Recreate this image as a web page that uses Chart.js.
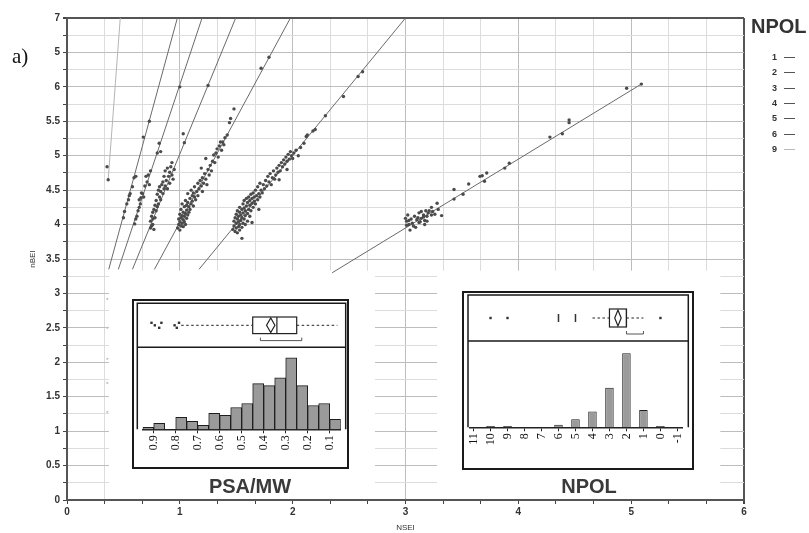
<!DOCTYPE html>
<html>
<head>
<meta charset="utf-8">
<title>nBEI vs NSEI</title>
<script src="https://cdn.jsdelivr.net/npm/chart.js@4.4.1/dist/chart.umd.min.js"></script>
<style>
  body { margin: 0; background: #fff; }
  #wrap { position: relative; width: 809px; height: 533px; overflow: hidden; background: #fff; font-family: "Liberation Sans", Arial, sans-serif; }
  #main { position: absolute; left: 0; top: 0; }
  .inset { position: absolute; }
  .inset_title { position: absolute; width: 140px; text-align: center; font-weight: bold; font-size: 20px; line-height: 20px; color: #3a3a3a; }
  #tag { position: absolute; left: 12px; top: 46px; font-family: "Liberation Serif", serif; font-size: 21px; line-height: 21px; color: #111; }
  #legend_head { position: absolute; left: 751px; top: 16px; font-weight: bold; font-size: 20px; line-height: 20px; color: #333; }
  .legend_row { position: absolute; left: 740px; width: 60px; height: 14px; }
  .legend_row span { position: absolute; right: 23px; top: 0; font-size: 9px; line-height: 14px; font-weight: bold; color: #333; }
  .legend_row i { position: absolute; left: 44px; top: 7px; width: 11px; height: 1px; }
</style>
</head>
<body>
<div id="wrap">
  <canvas id="main" width="809" height="533"></canvas>
  <div id="tag">a)</div>
  <div id="legend_head">NPOL</div>
  <canvas id="psaInset" class="inset" width="217" height="170" style="left:132px;top:299px"></canvas>
  <canvas id="npolInset" class="inset" width="232" height="179" style="left:462px;top:291px"></canvas>
  <div class="inset_title" style="left:180px;top:476px">PSA/MW</div>
  <div class="inset_title" style="left:519px;top:476px">NPOL</div>
</div>
<script>
// ===== 산점도 데이터 (NSEI, nBEI) =====
const npolLevels = ["1", "2", "3", "4", "5", "6", "9"];

const npol1Points = [[3.00,4.09],[3.01,4.05],[3.02,4.14],[3.03,4.00],[3.04,3.92],[3.05,4.08],[3.06,4.02],[3.08,4.12],[3.09,3.96],[3.10,4.07],[3.12,4.17],[3.12,4.03],[3.14,4.09],[3.14,4.19],[3.16,4.14],[3.17,4.06],[3.17,4.00],[3.18,4.20],[3.19,4.12],[3.20,4.17],[3.23,4.25],[3.23,4.14],[3.28,4.31],[3.29,4.22],[3.32,4.13],[3.01,3.99],[3.03,4.06],[3.07,3.98],[3.11,4.10],[3.13,4.04],[3.16,4.11],[3.19,4.05],[3.21,4.20],[3.24,4.19],[3.26,4.15],[3.43,4.51],[3.43,4.37],[3.51,4.44],[3.56,4.59],[3.66,4.70],[3.68,4.71],[3.70,4.63],[3.72,4.75],[3.88,4.82],[3.92,4.89],[4.28,5.27],[4.39,5.32],[4.45,5.52],[4.45,5.48],[4.96,5.98],[5.09,6.04]];

const npol2Points = [[1.47,3.93],[1.48,3.98],[1.48,4.05],[1.49,3.90],[1.49,4.10],[1.50,3.95],[1.50,4.02],[1.50,4.15],[1.51,3.88],[1.51,4.08],[1.51,4.20],[1.52,3.97],[1.52,4.04],[1.52,4.12],[1.53,3.92],[1.53,4.00],[1.53,4.18],[1.53,4.25],[1.54,4.06],[1.54,4.14],[1.55,3.80],[1.55,3.96],[1.55,4.10],[1.55,4.22],[1.56,4.02],[1.56,4.17],[1.56,4.30],[1.57,4.08],[1.57,4.24],[1.57,4.35],[1.58,4.00],[1.58,4.13],[1.58,4.20],[1.59,4.27],[1.59,4.38],[1.60,4.05],[1.60,4.16],[1.60,4.32],[1.61,4.22],[1.61,4.40],[1.62,4.12],[1.62,4.28],[1.62,4.35],[1.63,4.20],[1.63,4.44],[1.64,4.03],[1.64,4.31],[1.64,4.38],[1.65,4.25],[1.65,4.46],[1.66,4.34],[1.66,4.40],[1.67,4.30],[1.67,4.50],[1.68,4.42],[1.69,4.36],[1.69,4.55],[1.70,4.22],[1.70,4.45],[1.71,4.40],[1.71,4.60],[1.72,4.50],[1.73,4.46],[1.74,4.58],[1.75,4.52],[1.76,4.64],[1.77,4.56],[1.78,4.70],[1.79,4.62],[1.80,4.74],[1.81,4.58],[1.82,4.68],[1.83,4.78],[1.84,4.66],[1.85,4.72],[1.86,4.82],[1.87,4.76],[1.88,4.65],[1.88,4.86],[1.89,4.78],[1.90,4.90],[1.91,4.84],[1.92,4.94],[1.93,4.88],[1.95,4.80],[1.94,4.98],[1.95,4.92],[1.96,5.02],[1.97,4.95],[1.98,5.06],[1.99,5.00],[2.00,4.96],[2.01,5.04],[2.03,5.08],[2.05,5.00],[2.07,5.12],[2.10,5.18],[2.12,5.28],[2.13,5.30],[2.18,5.36],[2.20,5.38],[2.29,5.58],[2.45,5.86],[2.58,6.15],[2.62,6.22]];

const npol3Points = [[0.98,3.95],[0.99,4.00],[0.99,4.08],[1.00,3.92],[1.00,4.04],[1.00,4.15],[1.01,3.98],[1.01,4.10],[1.01,4.22],[1.02,4.02],[1.02,4.13],[1.02,4.30],[1.03,3.97],[1.03,4.07],[1.03,4.18],[1.04,4.04],[1.04,4.12],[1.04,4.26],[1.05,4.00],[1.05,4.16],[1.05,4.35],[1.06,4.09],[1.06,4.21],[1.06,4.28],[1.07,4.14],[1.07,4.32],[1.07,4.45],[1.08,4.18],[1.08,4.26],[1.09,4.38],[1.09,4.22],[1.10,4.30],[1.10,4.50],[1.11,4.34],[1.11,4.42],[1.12,4.27],[1.12,4.46],[1.13,4.40],[1.13,4.55],[1.14,4.36],[1.15,4.48],[1.16,4.60],[1.16,4.42],[1.17,4.52],[1.18,4.64],[1.19,4.56],[1.19,4.82],[1.20,4.48],[1.20,4.68],[1.21,4.60],[1.22,4.74],[1.23,4.66],[1.23,4.96],[1.24,4.58],[1.25,4.80],[1.26,4.72],[1.27,4.86],[1.28,4.78],[1.29,4.92],[1.30,5.01],[1.31,4.90],[1.32,5.04],[1.33,5.10],[1.34,4.98],[1.35,5.14],[1.36,5.20],[1.37,5.08],[1.38,5.20],[1.39,5.16],[1.40,5.26],[1.42,5.30],[1.44,5.48],[1.45,5.54],[1.48,5.68],[1.72,6.27],[1.79,6.43]];

const npol4Points = [[0.74,3.95],[0.74,4.05],[0.75,3.98],[0.75,4.12],[0.76,4.00],[0.76,4.18],[0.76,4.08],[0.77,4.22],[0.77,3.93],[0.78,4.10],[0.78,4.28],[0.79,4.20],[0.79,4.35],[0.80,4.26],[0.80,4.44],[0.81,4.30],[0.81,4.50],[0.82,4.40],[0.82,4.55],[0.83,4.36],[0.83,4.48],[0.84,4.58],[0.85,4.45],[0.85,4.62],[0.86,4.52],[0.86,4.70],[0.87,4.56],[0.87,4.78],[0.88,4.64],[0.89,4.52],[0.89,4.82],[0.90,4.70],[0.91,4.76],[0.91,4.60],[0.92,4.84],[0.93,4.72],[0.93,4.90],[0.94,4.66],[0.95,4.80],[1.03,5.32],[1.04,5.19],[1.25,6.02]];

const npol5Points = [[0.60,4.01],[0.61,4.08],[0.62,4.12],[0.63,4.20],[0.64,4.25],[0.64,4.36],[0.65,4.30],[0.655,4.39],[0.66,4.46],[0.67,4.45],[0.68,4.40],[0.69,4.56],[0.70,4.70],[0.71,4.62],[0.72,4.72],[0.73,4.58],[0.74,4.78],[0.80,5.04],[0.817,5.18],[0.83,5.06],[1.00,6.00]];

const npol6Points = [[0.50,4.10],[0.51,4.19],[0.53,4.30],[0.545,4.36],[0.552,4.42],[0.56,4.45],[0.58,4.55],[0.594,4.68],[0.61,4.70],[0.676,5.27],[0.73,5.50]];

const npol9Points = [[0.355,4.84],[0.365,4.65]];
const npol9FaintPoints = [[0.357,2.92],[0.357,2.50],[0.357,2.05],[0.357,1.70],[0.357,1.28]];

// 그룹별 적합선 (양 끝점)
const fit1 = [[2.35,3.30],[5.10,6.05]];
const fit2 = [[1.17,3.35],[3.00,7.00]];
const fit3 = [[0.775,3.35],[1.98,7.00]];
const fit4 = [[0.58,3.35],[1.495,7.00]];
const fit5 = [[0.455,3.35],[1.197,7.00]];
const fit6 = [[0.37,3.35],[0.978,7.00]];
const fit9 = [[0.365,4.65],[0.472,7.00]];

const xTickLabels = ["0", "1", "2", "3", "4", "5", "6"];
const yTickLabels = ["0", "0.5", "1", "1.5", "2", "2.5", "3", "3.5", "4", "4.5", "5", "5.5", "6", "5", "7"];

// ===== 삽입 히스토그램: PSA/MW =====
const psaBinCenters = [0.925,0.875,0.825,0.775,0.725,0.675,0.625,0.575,0.525,0.475,0.425,0.375,0.325,0.275,0.225,0.175,0.125,0.075];
const psaCounts = [1,3,0,6,4,2,8,7,11,13,23,22,26,36,22,12,13,5];
const psaTicks = [0.9,0.8,0.7,0.6,0.5,0.4,0.3,0.2,0.1];
const psaTickLabels = ["0.9","0.8","0.7","0.6","0.5","0.4","0.3","0.2","0.1"];
const psaBox = [0.775, 0.45, 0.34, 0.25, 0.065];   // 수염, Q1, 중앙값, Q3, 수염
const psaMean = [0.368, 0.019];                     // 평균, 다이아몬드 반폭
const psaOutliers = [0.91, 0.895, 0.875, 0.865, 0.805, 0.795, 0.785];
const psaOutlierCounts = [1, 1, 1, 1, 1, 1, 1];
const psaShortestHalf = [0.415, 0.227];

// ===== 삽입 히스토그램: NPOL =====
const npolValues = [10, 9, 6, 5, 4, 3, 2, 1, 0];
const npolCounts = [1, 1, 2, 6, 12, 30, 56, 13, 1];
const npolTicks = [11, 10, 9, 8, 7, 6, 5, 4, 3, 2, 1, 0, -1];
const npolTickLabels = ["11","10","9","8","7","6","5","4","3","2","1","0","-1"];
const npolBox = [4, 3, 2, 2, 1];
const npolMean = [2.5, 0.19];
const npolOutliers = [10, 9, 6, 5, 0];
const npolOutlierCounts = [1, 1, 2, 6, 1];
const npolShortestHalf = [2, 1];

const toXY = pts => pts.map(p => ({ x: p[0], y: p[1] }));

// 범례
npolLevels.forEach((lvl, i) => {
  const row = document.createElement("div");
  row.className = "legend_row";
  row.style.top = (49.7 + i * 15.4) + "px";
  row.innerHTML = `<span>${lvl}</span><i style="background:${lvl === "9" ? "#bbb" : "#555"}"></i>`;
  document.getElementById("wrap").appendChild(row);
});

// ===== 메인 산점도 =====
const groups = [
  { points: npol1Points, fit: fit1 },
  { points: npol2Points, fit: fit2 },
  { points: npol3Points, fit: fit3 },
  { points: npol4Points, fit: fit4 },
  { points: npol5Points, fit: fit5 },
  { points: npol6Points, fit: fit6 },
  { points: npol9Points, fit: fit9, light: true }
];

const datasets = [];
groups.forEach((g, i) => {
  datasets.push({
    label: "NPOL " + npolLevels[i],
    data: toXY(g.points),
    pointRadius: 1.7,
    pointBackgroundColor: "#4b4b4b",
    pointBorderWidth: 0,
    order: 1
  });
  datasets.push({
    label: "fit " + npolLevels[i],
    data: toXY(g.fit),
    showLine: true,
    borderColor: g.light ? "#b5b5b5" : "#6a6a6a",
    borderWidth: 1,
    pointRadius: 0,
    order: 2
  });
});
datasets.push({
  label: "NPOL 9 (low)",
  data: toXY(npol9FaintPoints),
  pointRadius: 1.1,
  pointBackgroundColor: "#c4c4c4",
  pointBorderWidth: 0,
  order: 1
});

// 아래쪽 흰 영역 (삽입 그래프 자리)
const panelSpans = [[0.372, 2.73], [3.28, 5.79]];
const panelTop = 3.33;

const panelPlugin = {
  id: "panels",
  beforeDatasetsDraw(chart) {
    const { ctx, scales: { x, y } } = chart;
    const top = y.getPixelForValue(panelTop);
    const bottom = y.getPixelForValue(0) - 1;
    ctx.save();
    ctx.fillStyle = "#fff";
    panelSpans.forEach(([a, b]) => {
      const l = x.getPixelForValue(a);
      ctx.fillRect(l, top, x.getPixelForValue(b) - l, bottom - top);
    });
    ctx.restore();
  }
};

const tickFont = { family: "'Liberation Sans', Arial, sans-serif", size: 10, weight: "bold" };

new Chart(document.getElementById("main"), {
  type: "scatter",
  data: { datasets },
  options: {
    responsive: false,
    animation: false,
    devicePixelRatio: 1,
    layout: { padding: { top: 18, right: 65, left: 0, bottom: 0 } },
    plugins: { legend: { display: false }, tooltip: { enabled: false } },
    scales: {
      x: {
        type: "linear",
        min: 0,
        max: 6,
        afterBuildTicks: s => { s.ticks = Array.from({ length: 19 }, (_, i) => ({ value: i / 3 })); },
        afterFit: s => { s.height = 33; },
        ticks: {
          autoSkip: false,
          maxRotation: 0,
          padding: 2,
          color: "#333",
          font: tickFont,
          callback: (v, i) => (i % 3 === 0 ? xTickLabels[i / 3] : "")
        },
        grid: {
          color: c => (c.index === 18 ? "#555" : c.index % 3 === 0 ? "#bdbdbd" : "#dcdcdc"),
          lineWidth: c => (c.index === 18 ? 2 : 1),
          tickColor: "#444",
          tickLength: 4
        },
        border: { color: "#555", width: 2 },
        title: {
          display: true,
          text: "NSEI",
          color: "#333",
          font: { family: "'Liberation Sans', Arial, sans-serif", size: 8 },
          padding: { top: 0, bottom: 0 }
        }
      },
      y: {
        type: "linear",
        min: 0,
        max: 7,
        afterBuildTicks: s => { s.ticks = Array.from({ length: 29 }, (_, i) => ({ value: i / 4 })); },
        afterFit: s => { s.width = 67; },
        ticks: {
          autoSkip: false,
          padding: 3,
          color: "#333",
          font: tickFont,
          callback: (v, i) => (i % 2 === 0 ? yTickLabels[i / 2] : "")
        },
        grid: {
          color: c => (c.index === 28 ? "#555" : c.index % 2 === 0 ? "#bdbdbd" : "#dcdcdc"),
          lineWidth: c => (c.index === 28 ? 2 : 1),
          tickColor: "#444",
          tickLength: 4
        },
        border: { color: "#555", width: 2 },
        title: {
          display: true,
          text: "nBEI",
          color: "#333",
          font: { family: "'Liberation Sans', Arial, sans-serif", size: 8 },
          padding: { top: 28, bottom: 0 }
        }
      }
    }
  },
  plugins: [panelPlugin]
});

// ===== 삽입 그래프: 상자그림 + 히스토그램 =====
const insetFrame = {
  id: "insetFrame",
  beforeDraw(chart) {
    const { ctx, width, height } = chart;
    ctx.save();
    ctx.fillStyle = "#fff";
    ctx.fillRect(0, 0, width, height);
    ctx.restore();
  },
  afterDraw(chart, args, o) {
    const { ctx, chartArea: a, width, height } = chart;
    const px = v => chart.scales.x.getPixelForValue(v);
    ctx.save();
    ctx.strokeStyle = "#1a1a1a";
    ctx.lineWidth = 2;
    ctx.strokeRect(1, 1, width - 2, height - 2);

    ctx.lineWidth = 1.5;
    ctx.beginPath();
    ctx.moveTo(o.left, a.bottom);
    ctx.lineTo(o.left, o.top);
    ctx.lineTo(o.right, o.top);
    ctx.lineTo(o.right, a.bottom);
    ctx.moveTo(o.left, o.divider);
    ctx.lineTo(o.right, o.divider);
    ctx.stroke();

    // 상자그림
    const [wLo, q1, med, q3, wHi] = o.box;
    const cy = (o.top + o.divider) / 2;
    const h = o.boxHalf;
    ctx.strokeStyle = "#222";
    ctx.lineWidth = 1;
    ctx.setLineDash([2.5, 2.5]);
    ctx.beginPath();
    ctx.moveTo(px(wLo), cy); ctx.lineTo(px(q1), cy);
    ctx.moveTo(px(q3), cy); ctx.lineTo(px(wHi), cy);
    ctx.stroke();
    ctx.setLineDash([]);

    ctx.lineWidth = 1.2;
    const bl = Math.min(px(q1), px(q3));
    ctx.strokeRect(bl, cy - h, Math.abs(px(q3) - px(q1)), 2 * h);
    ctx.beginPath();
    ctx.moveTo(px(med), cy - h); ctx.lineTo(px(med), cy + h);
    // 평균 다이아몬드
    const [m, ci] = o.mean;
    ctx.moveTo(px(m - ci), cy);
    ctx.lineTo(px(m), cy - h + 1);
    ctx.lineTo(px(m + ci), cy);
    ctx.lineTo(px(m), cy + h - 1);
    ctx.closePath();
    ctx.stroke();

    // 이상치
    ctx.fillStyle = "#333";
    o.outliers.forEach((v, i) => {
      if (o.outlierCounts[i] > 1) {
        ctx.fillRect(px(v) - 0.75, cy - 4, 1.5, 8);
      } else {
        const dy = o.jitter ? ((i % 3) - 1) * 2.5 : 0;
        ctx.fillRect(px(v) - 1.2, cy + dy - 1.2, 2.4, 2.4);
      }
    });

    // 최단 절반 구간
    const by = cy + h + 7;
    ctx.strokeStyle = "#555";
    ctx.lineWidth = 1;
    ctx.beginPath();
    ctx.moveTo(px(o.shortest[0]), by - 3);
    ctx.lineTo(px(o.shortest[0]), by);
    ctx.lineTo(px(o.shortest[1]), by);
    ctx.lineTo(px(o.shortest[1]), by - 3);
    ctx.stroke();
    ctx.restore();
  }
};

function makeInset(canvasId, cfg) {
  const bars = cfg.values
    .map((v, i) => ({ x: v, y: cfg.counts[i] }))
    .filter(d => d.y > 0);
  return new Chart(document.getElementById(canvasId), {
    type: "bar",
    data: {
      datasets: [{
        data: bars,
        backgroundColor: "#9a9a9a",
        borderColor: "#1e1e1e",
        borderWidth: 1,
        barPercentage: 1,
        categoryPercentage: cfg.barShare
      }]
    },
    options: {
      responsive: false,
      animation: false,
      devicePixelRatio: 1,
      layout: { padding: cfg.padding },
      plugins: {
        legend: { display: false },
        tooltip: { enabled: false },
        insetFrame: cfg.frame
      },
      scales: {
        x: {
          type: "linear",
          reverse: true,
          offset: false,
          min: cfg.min,
          max: cfg.max,
          afterBuildTicks: s => { s.ticks = cfg.ticks.map(v => ({ value: v })); },
          afterFit: s => { s.height = cfg.axisHeight; },
          ticks: {
            autoSkip: false,
            minRotation: 90,
            maxRotation: 90,
            padding: 2,
            color: "#111",
            font: { family: "'Liberation Serif', 'Times New Roman', serif", size: cfg.labelSize },
            callback: (v, i) => cfg.tickLabels[i]
          },
          grid: { drawOnChartArea: false, offset: false, tickLength: 4, tickColor: "#222" },
          border: { color: "#222", width: 1.5 }
        },
        y: { display: false, min: 0, max: cfg.yMax }
      }
    },
    plugins: [insetFrame]
  });
}

makeInset("psaInset", {
  values: psaBinCenters,
  counts: psaCounts,
  ticks: psaTicks,
  tickLabels: psaTickLabels,
  min: 0.05,
  max: 0.95,
  yMax: 40,
  barShare: 1,
  labelSize: 12,
  axisHeight: 39.7,
  padding: { left: 10.7, right: 8.3, top: 51, bottom: 0 },
  frame: {
    left: 5.3, right: 213.7, top: 4.3, divider: 48.3, boxHalf: 8.3,
    box: psaBox, mean: psaMean, outliers: psaOutliers, outlierCounts: psaOutlierCounts,
    shortest: psaShortestHalf, jitter: true
  }
});

makeInset("npolInset", {
  values: npolValues,
  counts: npolCounts,
  ticks: npolTicks,
  tickLabels: npolTickLabels,
  min: -1.3,
  max: 11.25,
  yMax: 60,
  barShare: 0.5,
  labelSize: 12,
  axisHeight: 42.7,
  padding: { left: 7.3, right: 8, top: 57, bottom: 0 },
  frame: {
    left: 6, right: 226.3, top: 4, divider: 50, boxHalf: 9,
    box: npolBox, mean: npolMean, outliers: npolOutliers, outlierCounts: npolOutlierCounts,
    shortest: npolShortestHalf, jitter: false
  }
});
</script>
</body>
</html>
